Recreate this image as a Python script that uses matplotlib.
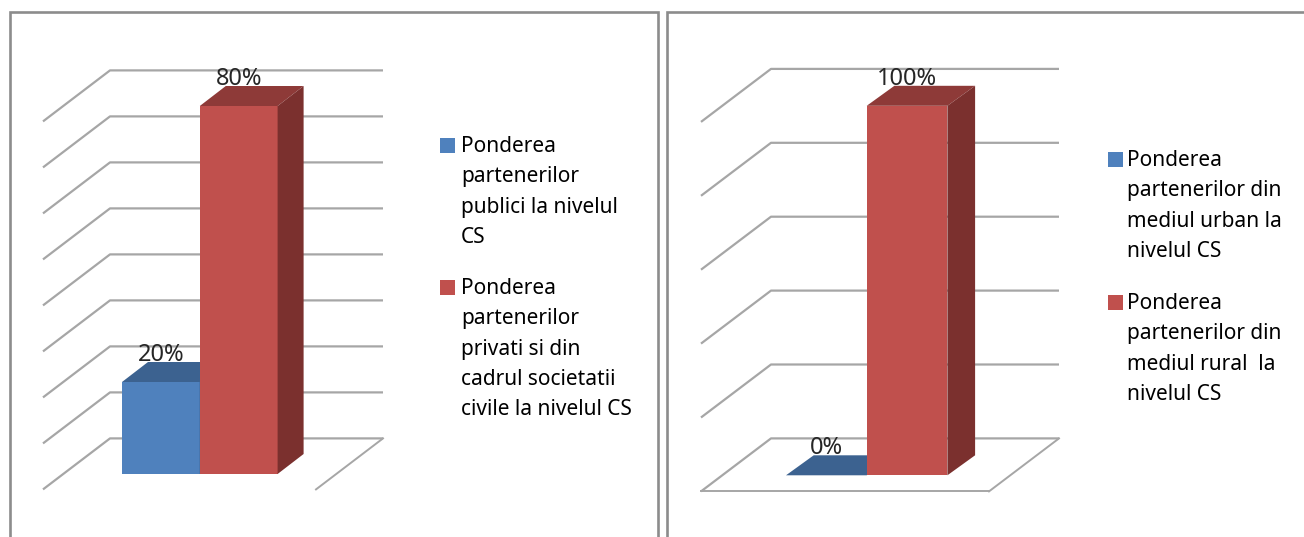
import matplotlib
matplotlib.use("Agg")
import matplotlib.pyplot as plt
from matplotlib.patches import Rectangle

W, H = 1304, 537

# left chart
left_values = [20, 80]
left_labels = ["20%", "80%"]
left_ticks = [0, 10, 20, 30, 40, 50, 60, 70, 80]
left_legend = ["Ponderea\npartenerilor\npublici la nivelul\nCS",
               "Ponderea\npartenerilor\nprivati si din\ncadrul societatii\ncivile la nivelul CS"]

# right chart
right_values = [0, 100]
right_labels = ["0%", "100%"]
right_ticks = [0, 20, 40, 60, 80, 100]
right_legend = ["Ponderea\npartenerilor din\nmediul urban la\nnivelul CS",
                "Ponderea\npartenerilor din\nmediul rural  la\nnivelul CS"]

FRONT = ["#4F81BD", "#C0504D"]
TOP = ["#3C6290", "#8E3A38"]
SIDE = ["#2F4E73", "#7B302E"]
GRID = "#A6A6A6"
FRAME = "#8C8C8C"
FONT = "Noto Sans"


def fx(x):
    return x / W


def fy(y):
    return 1 - y / H


def draw_chart(values, labels, ticks, bar_left, bar_w, base_y, per_unit, depth,
               floor_left, floor_right, wall_y, floor_depth, front_line):
    # axes covers the plot area, data x = bar index, data y = percent
    x0, x1, y0, y1 = floor_left - 10, floor_right + 80, 50, 500
    ax = fig.add_axes([fx(x0), fy(y1), (x1 - x0) / W, (y1 - y0) / H])
    ax.set_xlim((x0 - bar_left) / bar_w, (x1 - bar_left) / bar_w)
    ax.set_ylim((base_y - y1) / per_unit, (base_y - y0) / per_unit)
    ax.axis("off")

    # oblique offsets of the bar and of the whole floor, in data units
    dx, dy = depth[0] / bar_w, depth[1] / per_unit
    wall_x = (floor_left - bar_left) / bar_w
    wall_r = (floor_right - bar_left) / bar_w
    back_dx, back_dy = floor_depth[0] / bar_w, floor_depth[1] / per_unit
    back_y = (base_y - wall_y) / per_unit
    front_y = back_y - back_dy

    for t in ticks:
        y = back_y + t
        ax.plot([wall_x, wall_x + back_dx, wall_r + back_dx], [y - back_dy, y, y],
                color=GRID, lw=1.6, solid_capstyle="butt", zorder=1)
    ax.plot([wall_r, wall_r + back_dx], [front_y, back_y], color=GRID, lw=1.4, zorder=1)
    if front_line:
        ax.plot([wall_x, wall_r], [front_y, front_y], color=GRID, lw=1.4, zorder=1)

    for i, v in enumerate(values):
        z = 2 + i
        ax.bar(i, v, width=1, align="edge", color=FRONT[i], zorder=z)
        ax.fill([i, i + 1, i + 1 + dx, i + dx], [v, v, v + dy, v + dy], color=TOP[i], lw=0, zorder=z)
        ax.fill([i + 1, i + 1 + dx, i + 1 + dx, i + 1], [0, dy, v + dy, v], color=SIDE[i], lw=0, zorder=z)
        ax.annotate(labels[i], (i + 0.5, v), xytext=(0, 19.5), textcoords="offset points",
                    ha="center", va="center", fontsize=17, color="#262626",
                    family=FONT, zorder=10)


def draw_legend(entries, box_x, text_x, first_lines):
    for i, (label, y) in enumerate(zip(entries, first_lines)):
        fig.add_artist(Rectangle((fx(box_x), fy(y + 7.5)), 14.5 / W, 14.5 / H, transform=fig.transFigure,
                                 facecolor=FRONT[i], edgecolor="none"))
        fig.text(fx(text_x), fy(y - 9), label, ha="left", va="top", fontsize=15,
                 family=FONT, color="black", linespacing=1.58)


fig = plt.figure(figsize=(W / 100, H / 100), dpi=100, facecolor="white")

# chart frames, they run off the bottom of the picture
for x, w in [(9.5, 648.5), (667, 660)]:
    fig.add_artist(Rectangle((fx(x), fy(560)), w / W, 548 / H, transform=fig.transFigure,
                             facecolor="none", edgecolor=FRAME, lw=1.9))

draw_chart(left_values, left_labels, left_ticks, 122, 77.8, 474, 4.6, (26, 20), 43, 316, 438.4, (67, 51), False)
draw_chart(right_values, right_labels, right_ticks, 786, 80.7, 475.3, 3.695, (27.7, 20), 701, 989, 438.4, (70, 53), True)

draw_legend(left_legend, 440, 461, [145, 287])
draw_legend(right_legend, 1108, 1127, [159, 302])

fig.savefig("out.png", dpi=100)
